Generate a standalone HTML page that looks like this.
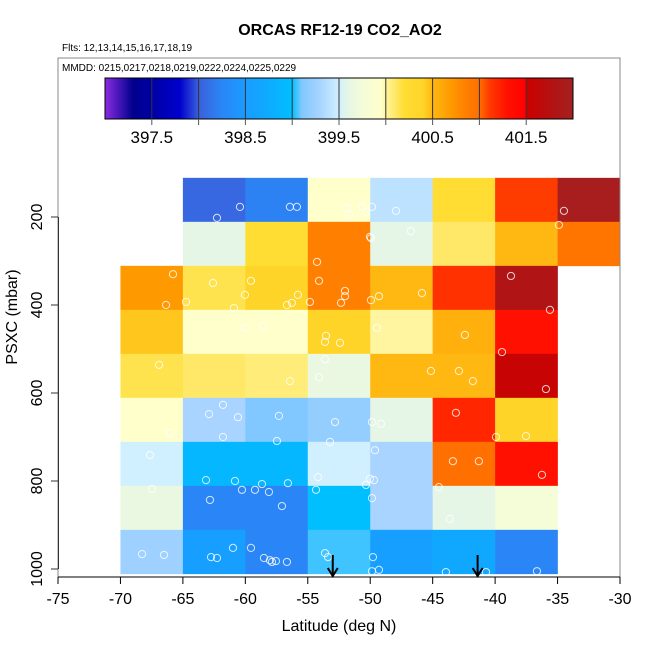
<!DOCTYPE html>
<html><head><meta charset="utf-8"><style>
body{margin:0;background:#fff;}
svg{display:block;font-family:"Liberation Sans",sans-serif;}
</style></head><body>
<svg id="chart" width="650" height="650" viewBox="0 0 650 650">
<text x="340" y="35" text-anchor="middle" font-size="16" font-weight="bold">ORCAS RF12-19 CO2_AO2</text>
<text x="62" y="51" font-size="10">Flts: 12,13,14,15,16,17,18,19</text>
<g id="cells"></g>
<g id="pts"></g>
<g id="cbar"></g>
<rect x="58" y="58" width="562" height="519" fill="none" stroke="#888" stroke-width="1"/>
<text x="62" y="71" font-size="10">MMDD: 0215,0217,0218,0219,0222,0224,0225,0229</text>
<g id="axes"></g>
<text x="339" y="631" text-anchor="middle" font-size="16">Latitude (deg N)</text>
<text transform="translate(17,317) rotate(-90)" text-anchor="middle" font-size="16">PSXC (mbar)</text>
</svg>
<script>
const latEdges=[-70,-65,-60,-55,-50,-45,-40,-35,-30];
const presEdges=[111,211,311,411,511,611,711,811,911,1011];
const cellValues=[
[null,398.05,398.22,399.95,399.4,400.2,401.1,401.95],
[null,399.6,400.2,400.85,399.6,400.1,400.5,400.95],
[400.7,400.15,400.4,400.85,400.5,401.15,401.8,null],
[400.45,399.95,399.95,400.4,400.0,400.55,401.3,null],
[400.15,400.1,400.07,399.65,400.5,400.5,401.55,null],
[399.95,399.3,399.1,399.2,399.6,401.2,400.4,null],
[399.5,398.9,398.9,399.5,399.3,401.0,401.3,null],
[399.65,398.25,398.25,399.0,399.3,399.6,399.75,null],
[399.25,398.55,398.25,399.05,398.55,398.7,398.25,null]];
const ptLat=[-49.86,-47.94,-34.49,-34.89,-49.94,-46.74,-38.73,-49.94,-49.30,-45.86,-35.61,-49.46,-42.42,-39.45,-45.14,-42.90,-41.78,-35.93,-66.91,-56.43,-54.10,-61.79,-62.91,-60.59,-57.31,-61.79,-57.47,-66.03,-52.82,-53.22,-67.63,-63.15,-60.83,-60.27,-59.23,-58.67,-58.11,-56.59,-62.83,-57.07,-54.18,-54.34,-67.47,-68.27,-66.51,-62.75,-62.27,-60.99,-59.55,-58.51,-58.03,-57.87,-57.55,-56.67,-53.62,-53.38,-49.86,-49.14,-43.14,-39.93,-37.53,-49.62,-50.02,-49.70,-50.34,-43.38,-41.30,-36.25,-44.50,-49.86,-43.62,-49.78,-49.86,-49.30,-43.94,-40.73,-36.65,-60.43,-62.27,-56.43,-55.87,-51.86,-50.66,-50.34,-51.70,-65.79,-66.35,-64.75,-62.59,-60.91,-60.03,-59.55,-56.67,-56.27,-55.79,-54.83,-54.26,-54.10,-52.02,-52.02,-52.34,-50.02,-60.03,-58.59,-53.54,-53.62,-52.42,-53.62];
const ptPres=[177,186,186,218,248,232,334,389,380,373,411,452,468,507,550,550,573,591,536,573,564,627,648,655,652,700,709,691,666,711,741,798,800,820,820,807,825,805,843,857,791,820,818,966,968,973,975,952,952,975,980,984,982,984,964,973,666,670,645,700,698,730,795,798,809,755,755,786,814,839,886,973,1005,1002,1007,1007,1005,177,202,177,177,180,177,189,195,330,400,393,350,407,377,345,400,395,377,393,302,345,368,380,395,245,452,448,470,484,486,523];
const arrowLat=[-53,-41.4];
const xTicks=[-75,-70,-65,-60,-55,-50,-45,-40,-35,-30];
const yTicks=[200,400,600,800,1000];
const cbTicks=[397.5,398.5,399.5,400.5,401.5];
const cbLines=[397.5,398,398.5,399,399.5,400,400.5,401,401.5];
const cmapVals=[397.0,397.3,397.8,398.0,398.25,398.5,398.7,399.0,399.1,399.3,399.5,399.6,399.75,399.95,400.0,400.1,400.2,400.4,400.5,400.7,400.85,401.0,401.1,401.3,401.5,401.51,401.8,402.0];
const cmapCols=["#8a2be2","#00008b","#0000cd","#3a60dc","#2a86f6","#1a9cff","#10a8ff","#00bfff","#80c8ff","#a8d4ff","#d0f0ff","#e6f6e6","#f4fcd8","#ffffcc","#fff5a0","#ffe868","#ffdd33","#ffd428","#ffb812","#ff9900","#ff8000","#ff7000","#ff3c00","#ff1000","#ff0000","#cc0000","#b01414","#a52020"];
const NS="http://www.w3.org/2000/svg";
const X=l=>58+(l+75)*562/45;
const Y=p=>217+(p-200)*0.44;
const CB=v=>105+(v-397)*468/5;
function hex(c){return [1,3,5].map(i=>parseInt(c.substr(i,2),16));}
function color(v){
  if(v<=cmapVals[0])return cmapCols[0];
  for(let i=1;i<cmapVals.length;i++){if(v<=cmapVals[i]){const t=(v-cmapVals[i-1])/(cmapVals[i]-cmapVals[i-1]);const a=hex(cmapCols[i-1]),b=hex(cmapCols[i]);return "rgb("+a.map((x,k)=>Math.round(x+(b[k]-x)*t)).join(",")+")";}}
  return cmapCols[cmapCols.length-1];
}
function mk(tag,attrs,parent){const e=document.createElementNS(NS,tag);for(const k in attrs)e.setAttribute(k,attrs[k]);parent.appendChild(e);return e;}
const cells=document.getElementById('cells');
cellValues.forEach((row,r)=>row.forEach((v,c)=>{
  if(v===null)return;
  const x0=X(latEdges[c]),x1=X(latEdges[c+1]),y0=Y(presEdges[r]),y1=Y(presEdges[r+1]);
  const e=mk('rect',{x:x0,y:y0,width:x1-x0+0.3,height:y1-y0+0.3,fill:color(v)},cells);
  
  
}));
const pts=document.getElementById('pts');
ptLat.forEach((l,i)=>{
  const e=mk('circle',{cx:X(l),cy:Y(ptPres[i]),r:3.6,fill:'none',stroke:'#fff','stroke-opacity':0.8,'stroke-width':1},pts);
  
  
});
arrowLat.forEach(l=>{
  const x=X(l);
  const g=mk('g',{stroke:'#000','stroke-width':2,fill:'none'},pts);
  
  
  mk('line',{x1:x,y1:555,x2:x,y2:576},g);
  mk('polyline',{points:(x-5)+',568 '+x+',576 '+(x+5)+',568'},g);
});
const cbar=document.getElementById('cbar');
const defs=mk('defs',{},cbar);
const grad=mk('linearGradient',{id:'cg',x1:0,x2:1,y1:0,y2:0},defs);
cmapVals.forEach((v,i)=>mk('stop',{offset:(v-397)/5,'stop-color':cmapCols[i]},grad));
const cbRect=mk('rect',{x:105,y:78,width:468,height:41,fill:'url(#cg)',stroke:'#000','stroke-width':1},cbar);


cbLines.forEach(v=>mk('line',{x1:CB(v),x2:CB(v),y1:78,y2:119,stroke:'#333','stroke-width':1},cbar));
cbLines.forEach(v=>mk('line',{x1:CB(v),x2:CB(v),y1:119,y2:125,stroke:'#555','stroke-width':1},cbar));
cbTicks.forEach(v=>{
  const t=mk('text',{x:CB(v),y:143,'text-anchor':'middle','font-size':17},cbar);
  t.textContent=v.toFixed(1);
  
  
});
const axes=document.getElementById('axes');
mk('line',{x1:58,x2:620,y1:577,y2:577,stroke:'#000'},axes);
mk('line',{x1:58.5,x2:58.5,y1:Y(yTicks[0]),y2:Y(yTicks[yTicks.length-1]),stroke:'#333'},axes);
xTicks.forEach(v=>{
  mk('line',{x1:X(v),x2:X(v),y1:577,y2:584,stroke:'#000'},axes);
  const t=mk('text',{x:X(v),y:604,'text-anchor':'middle','font-size':16},axes);
  t.textContent=v;
  
  
});
yTicks.forEach(v=>{
  mk('line',{x1:51,x2:58,y1:Y(v),y2:Y(v),stroke:'#333'},axes);
  const t=mk('text',{x:0,y:0,'text-anchor':'middle','font-size':16,transform:'translate(42,'+Y(v)+') rotate(-90)'},axes);
  t.textContent=v;
  
  
});
</script>
</body></html>
